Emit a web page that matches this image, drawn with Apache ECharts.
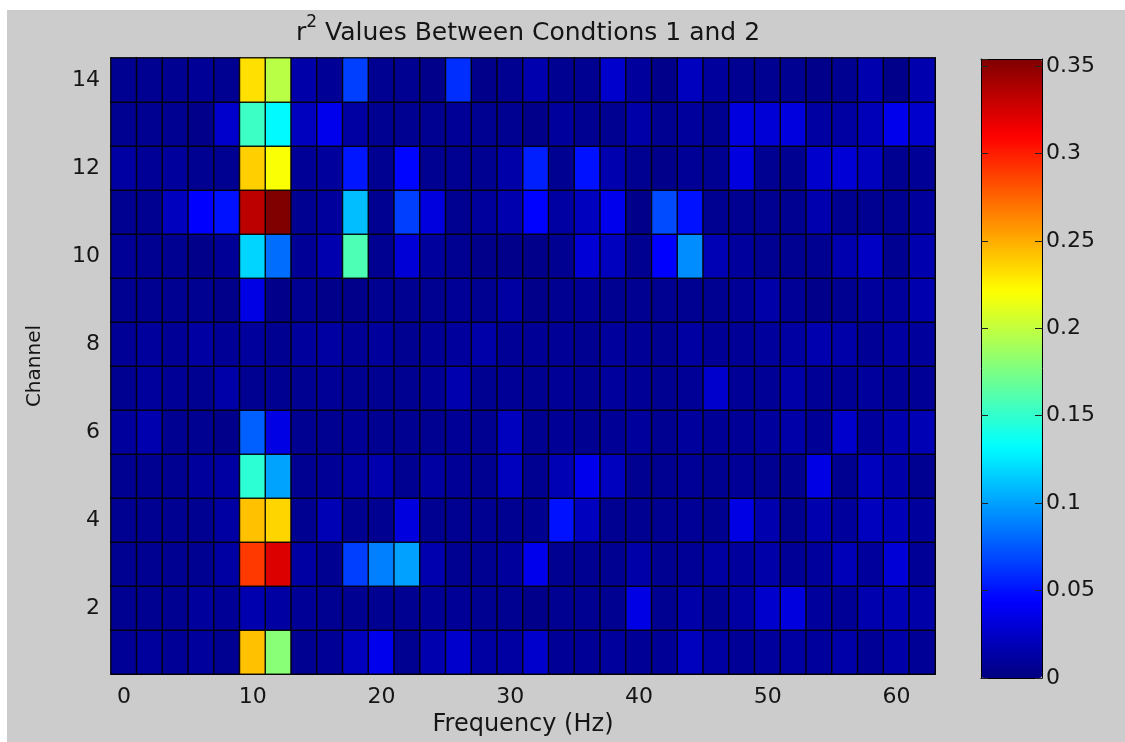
<!DOCTYPE html>
<html>
<head>
<meta charset="utf-8">
<title>r2 Values</title>
<script src="https://cdn.jsdelivr.net/npm/echarts@6.0.0/dist/echarts.min.js"></script>
<style>
  html, body { margin: 0; padding: 0; background: #fff; }
  #chart { width: 1125px; height: 742px; }
</style>
</head>
<body>
<div id="chart"></div>
<script>
  // frequency bins (Hz) and channel numbers
  const freqs = ['0','2','4','6','8','10','12','14','16','18','20','22','24','26','28','30',
                 '32','34','36','38','40','42','44','46','48','50','52','54','56','58','60','62'];
  const channels = ['1','2','3','4','5','6','7','8','9','10','11','12','13','14'];

  // r^2 per channel, one value per frequency bin
  const ch1  = [0.008,0.01,0.008,0.01,0.006,0.243,0.18,0.006,0.008,0.022,0.038,0.006,0.016,0.027,0.012,0.012,0.027,0.008,0.008,0.01,0.008,0.008,0.022,0.012,0.008,0.01,0.012,0.01,0.014,0.008,0.014,0.008];
  const ch2  = [0.006,0.006,0.006,0.01,0.008,0.016,0.012,0.008,0.006,0.006,0.006,0.006,0.008,0.008,0.006,0.006,0.004,0.006,0.006,0.006,0.035,0.006,0.014,0.006,0.012,0.027,0.033,0.01,0.008,0.016,0.018,0.014];
  const ch3  = [0.006,0.006,0.006,0.006,0.012,0.29,0.322,0.012,0.006,0.066,0.088,0.1,0.016,0.006,0.006,0.01,0.038,0.006,0.006,0.006,0.014,0.006,0.008,0.012,0.01,0.014,0.008,0.01,0.02,0.01,0.03,0.008];
  const ch4  = [0.006,0.006,0.006,0.006,0.012,0.243,0.236,0.006,0.018,0.006,0.006,0.033,0.006,0.006,0.006,0.006,0.006,0.05,0.022,0.006,0.006,0.006,0.008,0.006,0.035,0.016,0.006,0.016,0.01,0.022,0.02,0.01];
  const ch5  = [0.006,0.006,0.006,0.01,0.012,0.148,0.101,0.006,0.008,0.012,0.016,0.006,0.012,0.008,0.006,0.022,0.006,0.018,0.038,0.022,0.006,0.006,0.008,0.006,0.008,0.006,0.006,0.035,0.006,0.022,0.014,0.006];
  const ch6  = [0.01,0.016,0.006,0.006,0.004,0.077,0.035,0.006,0.006,0.008,0.006,0.006,0.006,0.008,0.006,0.022,0.006,0.008,0.006,0.008,0.01,0.006,0.01,0.008,0.008,0.01,0.014,0.008,0.027,0.01,0.016,0.018];
  const ch7  = [0.006,0.01,0.008,0.006,0.014,0.006,0.006,0.006,0.008,0.006,0.006,0.006,0.008,0.016,0.006,0.008,0.006,0.008,0.006,0.01,0.008,0.006,0.008,0.027,0.008,0.008,0.014,0.008,0.008,0.01,0.008,0.008];
  const ch8  = [0.008,0.01,0.008,0.012,0.008,0.01,0.006,0.01,0.012,0.008,0.01,0.006,0.008,0.01,0.014,0.008,0.008,0.008,0.006,0.01,0.008,0.006,0.012,0.008,0.008,0.01,0.012,0.016,0.014,0.008,0.012,0.01];
  const ch9  = [0.006,0.006,0.006,0.006,0.004,0.035,0.004,0.006,0.004,0.004,0.006,0.006,0.006,0.008,0.006,0.012,0.004,0.006,0.008,0.006,0.006,0.006,0.006,0.006,0.008,0.014,0.008,0.004,0.006,0.01,0.01,0.016];
  const ch10 = [0.008,0.006,0.006,0.004,0.008,0.118,0.082,0.008,0.016,0.159,0.006,0.03,0.01,0.006,0.004,0.004,0.004,0.006,0.03,0.022,0.006,0.044,0.093,0.018,0.01,0.006,0.006,0.006,0.016,0.024,0.006,0.016];
  const ch11 = [0.006,0.006,0.022,0.044,0.05,0.333,0.354,0.006,0.01,0.11,0.006,0.066,0.033,0.006,0.01,0.016,0.045,0.012,0.022,0.038,0.004,0.07,0.05,0.006,0.006,0.006,0.006,0.016,0.006,0.006,0.006,0.01];
  const ch12 = [0.012,0.008,0.01,0.006,0.006,0.238,0.22,0.008,0.01,0.052,0.006,0.046,0.006,0.006,0.006,0.014,0.055,0.006,0.05,0.016,0.006,0.004,0.008,0.006,0.033,0.006,0.006,0.027,0.03,0.022,0.006,0.008];
  const ch13 = [0.006,0.006,0.006,0.004,0.027,0.153,0.131,0.022,0.038,0.012,0.006,0.006,0.006,0.008,0.006,0.006,0.004,0.01,0.006,0.006,0.014,0.006,0.01,0.006,0.033,0.03,0.033,0.012,0.012,0.02,0.038,0.027];
  const ch14 = [0.006,0.006,0.006,0.008,0.006,0.232,0.197,0.014,0.008,0.066,0.006,0.006,0.004,0.06,0.004,0.006,0.016,0.006,0.006,0.027,0.01,0.004,0.022,0.01,0.006,0.006,0.006,0.004,0.006,0.016,0.004,0.016];

  const colorMin = 0;
  const colorMax = 0.354;
  const colorTicks = 0.05;

  const rows = [ch1, ch2, ch3, ch4, ch5, ch6, ch7, ch8, ch9, ch10, ch11, ch12, ch13, ch14];
  const cells = [];
  rows.forEach((row, y) => {
    row.forEach((v, x) => cells.push([x, y, v]));
  });

  // matlab jet
  const jet = ['#000080', '#0000ff', '#0080ff', '#00ffff', '#80ff80', '#ffff00', '#ff8000', '#ff0000', '#800000'];

  const font = 'DejaVu Sans';
  const txt = '#151515';
  const every10 = (i, v) => Number(v) % 10 === 0;
  const every2 = (i, v) => Number(v) % 2 === 0;

  const chart = echarts.init(document.getElementById('chart'));
  chart.setOption({
    animation: false,
    backgroundColor: '#fff',
    graphic: [{
      type: 'rect',
      z: -10,
      shape: { x: 7, y: 10, width: 1118, height: 732 },
      style: { fill: '#cccccc' }
    }],
    title: {
      left: 523,
      top: 9,
      textAlign: 'center',
      text: '{r|r}{sup|2}{t| Values Between Condtions 1 and 2}',
      textStyle: {
        fontWeight: 'normal',
        rich: {
          r: { fontFamily: font, fontSize: 25, fontWeight: 'normal', color: txt, lineHeight: 32, verticalAlign: 'bottom' },
          sup: { fontFamily: font, fontSize: 17, fontWeight: 'normal', color: txt, lineHeight: 17, verticalAlign: 'top' },
          t: { fontFamily: font, fontSize: 25, fontWeight: 'normal', color: txt, lineHeight: 32, verticalAlign: 'bottom' }
        }
      }
    },
    grid: [
      { left: 111, top: 58, width: 824, height: 619 },
      { left: 981, top: 59, width: 61, height: 619 }
    ],
    xAxis: [
      {
        type: 'category',
        gridIndex: 0,
        data: freqs,
        name: 'Frequency (Hz)',
        nameLocation: 'middle',
        nameGap: 35,
        nameTextStyle: { fontFamily: font, fontSize: 24, color: txt },
        axisLine: { lineStyle: { color: '#000', width: 1 } },
        axisTick: { inside: true, length: 6, alignWithLabel: true, interval: every10, lineStyle: { color: '#000' } },
        axisLabel: { interval: every10, margin: 12, fontFamily: font, fontSize: 22, color: txt },
        splitLine: { show: false }
      },
      {
        type: 'category',
        gridIndex: 0,
        position: 'top',
        data: freqs,
        axisLine: { lineStyle: { color: '#000', width: 1 } },
        axisTick: { inside: true, length: 6, alignWithLabel: true, interval: every10, lineStyle: { color: '#000' } },
        axisLabel: { show: false }
      },
      {
        type: 'value',
        gridIndex: 1,
        min: 0, max: 1,
        z: 5,
        axisLine: { onZero: false, lineStyle: { color: '#000' } },
        axisTick: { show: false },
        axisLabel: { show: false },
        splitLine: { show: false }
      },
      {
        type: 'value',
        gridIndex: 1,
        position: 'top',
        min: 0, max: 1,
        z: 5,
        axisLine: { onZero: false, lineStyle: { color: '#000' } },
        axisTick: { show: false },
        axisLabel: { show: false },
        splitLine: { show: false }
      }
    ],
    yAxis: [
      {
        type: 'category',
        gridIndex: 0,
        data: channels,
        name: 'Channel',
        nameLocation: 'middle',
        nameGap: 66,
        nameTextStyle: { fontFamily: font, fontSize: 20, color: txt },
        axisLine: { lineStyle: { color: '#000', width: 1 } },
        axisTick: { inside: true, length: 6, alignWithLabel: true, interval: every2, lineStyle: { color: '#000' } },
        axisLabel: { interval: every2, margin: 11, fontFamily: font, fontSize: 22, color: txt },
        splitLine: { show: false }
      },
      {
        type: 'category',
        gridIndex: 0,
        position: 'right',
        data: channels,
        axisLine: { lineStyle: { color: '#000', width: 1 } },
        axisTick: { inside: true, length: 6, alignWithLabel: true, interval: every2, lineStyle: { color: '#000' } },
        axisLabel: { show: false }
      },
      {
        type: 'value',
        gridIndex: 1,
        position: 'right',
        min: colorMin,
        max: colorMax,
        interval: colorTicks,
        z: 5,
        axisLine: { onZero: false, lineStyle: { color: '#000' } },
        axisTick: { inside: true, length: 7, lineStyle: { color: '#222' } },
        axisLabel: { margin: 4, fontFamily: font, fontSize: 22, color: txt },
        splitLine: { show: false }
      },
      {
        type: 'value',
        gridIndex: 1,
        position: 'left',
        min: colorMin,
        max: colorMax,
        interval: colorTicks,
        z: 5,
        axisLine: { onZero: false, lineStyle: { color: '#000' } },
        axisTick: { inside: true, length: 7, lineStyle: { color: '#222' } },
        axisLabel: { show: false },
        splitLine: { show: false }
      }
    ],
    visualMap: {
      type: 'continuous',
      seriesIndex: 0,
      dimension: 2,
      min: colorMin,
      max: colorMax,
      calculable: false,
      hoverLink: false,
      orient: 'vertical',
      left: 981,
      top: 59,
      padding: 0,
      itemWidth: 61,
      itemHeight: 619,
      text: null,
      z: 1,
      inRange: { color: jet }
    },
    series: [{
      type: 'heatmap',
      xAxisIndex: 0,
      yAxisIndex: 0,
      data: cells,
      itemStyle: { borderColor: 'rgba(0,0,0,0.85)', borderWidth: 1.5 },
      emphasis: { disabled: true }
    }]
  });
</script>
</body>
</html>
